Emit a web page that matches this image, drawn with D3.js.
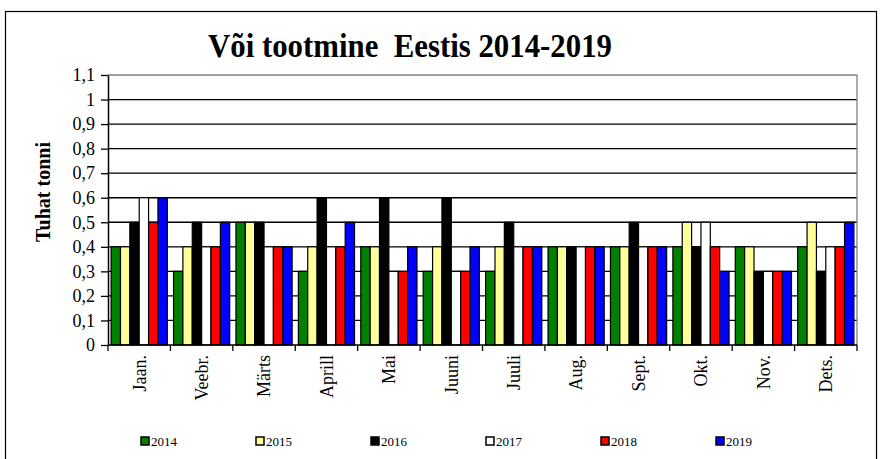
<!DOCTYPE html>
<html>
<head>
<meta charset="utf-8">
<script src="https://cdn.jsdelivr.net/npm/d3@7"></script>
<style>
  body { margin: 0; background: #fff; }
  text { font-family: "Liberation Serif", "Times New Roman", serif; }
</style>
</head>
<body>
<div id="vis1"></div>
<script>
var months = ["Jaan.","Veebr.","Märts","Aprill","Mai","Juuni","Juuli","Aug.","Sept.","Okt.","Nov.","Dets."];
var years = ["2014","2015","2016","2017","2018","2019"];
var v2014 = [0.4,0.3,0.5,0.3,0.4,0.3,0.3,0.4,0.4,0.4,0.4,0.4];
var v2015 = [0.4,0.4,0.5,0.4,0.4,0.4,0.4,0.4,0.4,0.5,0.4,0.5];
var v2016 = [0.5,0.5,0.5,0.6,0.6,0.6,0.5,0.4,0.5,0.4,0.3,0.3];
var v2017 = [0.6,0.4,0.4,0.4,0.3,0.3,0.4,0.4,0.4,0.5,0.3,0.4];
var v2018 = [0.5,0.4,0.4,0.4,0.3,0.3,0.4,0.4,0.4,0.4,0.3,0.4];
var v2019 = [0.6,0.5,0.4,0.5,0.4,0.4,0.4,0.4,0.4,0.3,0.3,0.5];
var yTicks = [0,0.1,0.2,0.3,0.4,0.5,0.6,0.7,0.8,0.9,1,1.1];
var colors = ["#008000","#ffff99","#000000","#ffffff","#ff0000","#0000ff"];

var series = [v2014,v2015,v2016,v2017,v2018,v2019];

gen_vis();

function fmt(d)
{
	if (Math.abs(d - Math.round(d)) < 1e-9) return String(Math.round(d));
	return d.toFixed(1).replace(".", ",");
}

function gen_vis()
{
	var w = 881, h = 459;
	var left = 108, right = 857, top = 75, bottom = 345;

	var svg = d3.select("#vis1")
		.append("svg")
		.attr("width",w)
		.attr("height",h);

	// outer frame
	svg.append("rect")
		.attr("x",5.5).attr("y",11.5)
		.attr("width",871).attr("height",470)
		.attr("fill","none")
		.attr("stroke","#000")
		.attr("stroke-width",1.2);

	var x0 = d3.scaleBand().domain(months).range([left,right]).paddingInner(0.1).paddingOuter(0.05);
	var x1 = d3.scaleBand().domain(years).range([0,x0.bandwidth()]);
	var y = d3.scaleLinear().domain([0,1.1]).range([bottom,top]);

	// gridlines
	svg.selectAll("line.grid")
		.data(yTicks.filter(function(d){ return d > 0; }))
		.enter()
		.append("line")
		.attr("class","grid")
		.attr("x1",left).attr("x2",right)
		.attr("y1",function(d){ return y(d); })
		.attr("y2",function(d){ return y(d); })
		.attr("stroke",function(d){ return d === 1.1 ? "#808080" : "#000"; })
		.attr("stroke-width",1.3);

	svg.append("line")
		.attr("x1",right).attr("x2",right)
		.attr("y1",top).attr("y2",bottom)
		.attr("stroke","#808080").attr("stroke-width",1.3);

	// bars
	var groups = svg.selectAll("g.month")
		.data(months)
		.enter()
		.append("g")
		.attr("class","month")
		.attr("transform",function(d){ return "translate(" + x0(d) + ",0)"; });

	groups.selectAll("rect")
		.data(function(d, i){ return years.map(function(yr, j){ return {year: yr, j: j, value: series[j][i]}; }); })
		.enter()
		.append("rect")
		.attr("x",function(d){ return x1(d.year); })
		.attr("width",x1.bandwidth())
		.attr("y",function(d){ return y(d.value); })
		.attr("height",function(d){ return bottom - y(d.value); })
		.attr("fill",function(d){ return colors[d.j]; })
		.attr("stroke","#000")
		.attr("stroke-width",1.2);

	// y axis
	var yAxis = svg.append("g")
		.attr("transform","translate(" + left + ",0)")
		.call(d3.axisLeft(y).tickValues(yTicks).tickFormat(fmt).tickSize(7).tickSizeOuter(0).tickPadding(6));
	yAxis.selectAll("text").attr("font-size","18px").attr("fill","#000").style("font-family","Liberation Serif");
	yAxis.selectAll("line").attr("stroke","#000").attr("stroke-width",1.3);
	yAxis.select(".domain").attr("stroke","#000").attr("stroke-width",1.5);

	// x axis
	var xBoundaries = months.map(function(m, i){ return left + i * x0.step(); }).concat([right]);
	svg.append("line")
		.attr("x1",left).attr("x2",right)
		.attr("y1",bottom).attr("y2",bottom)
		.attr("stroke","#000").attr("stroke-width",1.5);
	svg.selectAll("line.xtick")
		.data(xBoundaries)
		.enter()
		.append("line")
		.attr("class","xtick")
		.attr("x1",function(d){ return d; }).attr("x2",function(d){ return d; })
		.attr("y1",bottom).attr("y2",bottom + 6)
		.attr("stroke","#000").attr("stroke-width",1.3);

	svg.selectAll("text.month")
		.data(months)
		.enter()
		.append("text")
		.attr("class","month")
		.attr("transform",function(d){ return "translate(" + (x0(d) + x0.bandwidth()/2) + "," + (bottom + 10) + ") rotate(-90)"; })
		.attr("text-anchor","end")
		.attr("dy","0.35em")
		.attr("font-size","18px")
		.text(function(d){ return d; });

	// axis title
	svg.append("text")
		.attr("transform","translate(43,192) rotate(-90)")
		.attr("text-anchor","middle")
		.attr("dy","0.35em")
		.attr("font-size","20px")
		.attr("font-weight","bold")
		.text("Tuhat tonni");

	// chart title
	svg.append("text")
		.attr("x",208).attr("y",57)
		.attr("font-size","33px")
		.attr("font-weight","bold")
		.attr("textLength",404)
		.attr("lengthAdjust","spacingAndGlyphs")
		.style("white-space","pre")
		.text("Või tootmine  Eestis 2014-2019");

	// legend
	var legend = svg.selectAll("g.legend")
		.data(years)
		.enter()
		.append("g")
		.attr("class","legend")
		.attr("transform",function(d, i){ return "translate(" + (141 + i * 115) + ",441)"; });
	legend.append("rect")
		.attr("x",0).attr("y",-4)
		.attr("width",8).attr("height",8)
		.attr("fill",function(d, i){ return colors[i]; })
		.attr("stroke","#000")
		.attr("stroke-width",1.5);
	legend.append("text")
		.attr("x",10).attr("dy","0.35em")
		.attr("font-size","13px")
		.text(function(d){ return d; });
}
</script>
</body>
</html>
